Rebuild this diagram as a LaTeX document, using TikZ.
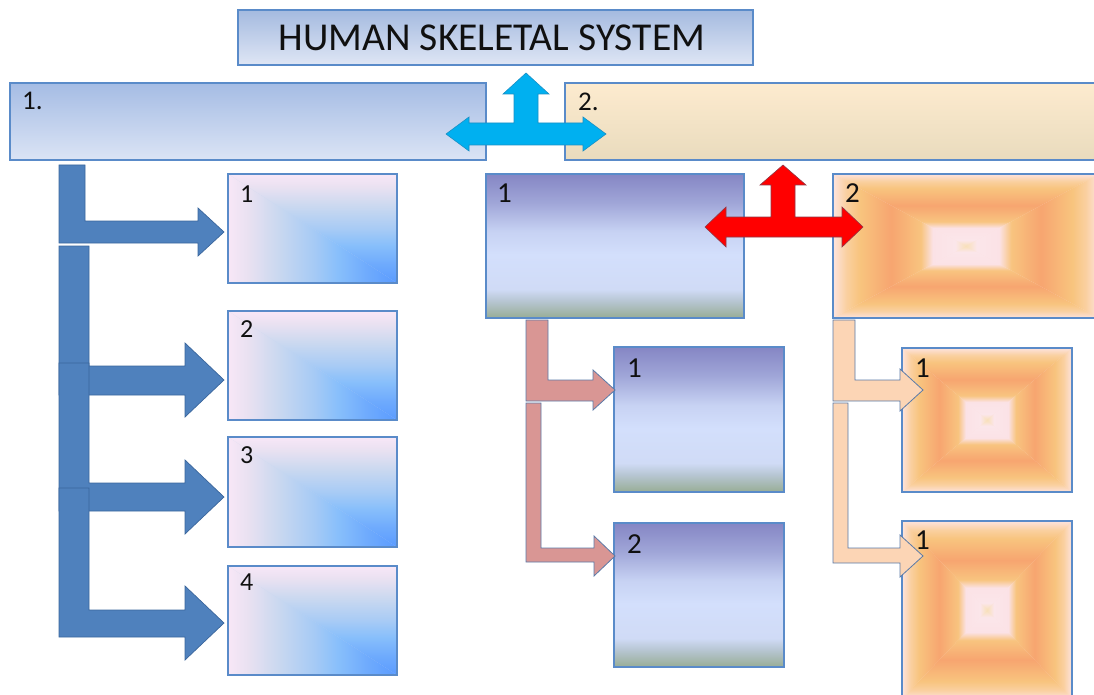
\documentclass[tikz,border=0pt]{standalone}
\usepackage{fontspec}
\setmainfont{Carlito}
\usetikzlibrary{fit}

\definecolor{bordc}{HTML}{5A8BC9}
\definecolor{txt}{HTML}{101010}
\definecolor{tA}{HTML}{A4BADF}
\definecolor{tB}{HTML}{DFE6F5}
\definecolor{oA}{HTML}{A5BCE4}
\definecolor{oB}{HTML}{DBE4F5}
\definecolor{wA}{HTML}{FDEBCF}
\definecolor{wB}{HTML}{E9DBBD}
% purple boxes
\definecolor{pt}{HTML}{8586C4}
\definecolor{pm}{HTML}{A0A6D8}
\definecolor{p3}{HTML}{C7D2F3}
\definecolor{pl}{HTML}{D3DFFC}
\definecolor{pl2}{HTML}{D0DBF6}
\definecolor{p5}{HTML}{B7C6D3}
\definecolor{pg}{HTML}{98AD95}
% corner-gradient boxes
\definecolor{d0}{HTML}{F8E7F7}
\definecolor{d1}{HTML}{E9E1F1}
\definecolor{d2}{HTML}{C9D8F0}
\definecolor{d3}{HTML}{A8CBF5}
\definecolor{d4}{HTML}{88BFFB}
\definecolor{d5}{HTML}{6FABFD}
\definecolor{d6}{HTML}{5A9BFF}
% pyramid boxes
\definecolor{q0}{HTML}{FDE3DE}
\definecolor{q1}{HTML}{FAD0A0}
\definecolor{q2}{HTML}{F8C47E}
\definecolor{q3}{HTML}{F7A570}
\definecolor{q4}{HTML}{F8C47F}
\definecolor{q5}{HTML}{FBE2E6}
\definecolor{q6}{HTML}{FBE6EA}
\definecolor{q7}{HTML}{F8E0B8}
% connectors
\definecolor{cyanA}{HTML}{00B0F0}
\definecolor{cyanB}{HTML}{1A8FC4}
\definecolor{redA}{HTML}{FF0000}
\definecolor{redB}{HTML}{8E3A48}
\definecolor{blA}{HTML}{4F81BD}
\definecolor{blB}{HTML}{3A669C}
\definecolor{pkA}{HTML}{D99694}
\definecolor{pcA}{HTML}{FCD5B5}
\definecolor{lnB}{HTML}{5A7AA8}

\pgfdeclareverticalshading{purp}{100bp}{color(0bp)=(pg); color(25bp)=(pg); color(31bp)=(p5); color(35bp)=(pl2); color(47bp)=(pl); color(55bp)=(p3); color(65bp)=(pm); color(75bp)=(pt); color(100bp)=(pt)}
% corner gradient: t = min(x/w, y/h)
\pgfdeclareverticalshading{cornV}{100bp}{color(0bp)=(d6); color(25bp)=(d6); color(34bp)=(d5); color(42.5bp)=(d4); color(50bp)=(d3); color(60bp)=(d2); color(69bp)=(d1); color(75bp)=(d0); color(100bp)=(d0)}
\pgfdeclarehorizontalshading{cornH}{100bp}{color(0bp)=(d0); color(25bp)=(d0); color(31bp)=(d1); color(40bp)=(d2); color(50bp)=(d3); color(57.5bp)=(d4); color(66bp)=(d5); color(75bp)=(d6); color(100bp)=(d6)}
\pgfdeclareverticalshading{pyrT}{100bp}{color(0bp)=(q7); color(25bp)=(q7); color(29bp)=(q6); color(37.5bp)=(q5); color(42bp)=(q4); color(53bp)=(q3); color(65bp)=(q2); color(70bp)=(q1); color(75bp)=(q0); color(100bp)=(q0)}
\pgfdeclareverticalshading{pyrB}{100bp}{color(0bp)=(q0); color(25bp)=(q0); color(30bp)=(q1); color(35bp)=(q2); color(47bp)=(q3); color(58bp)=(q4); color(62.5bp)=(q5); color(71bp)=(q6); color(75bp)=(q7); color(100bp)=(q7)}
\pgfdeclarehorizontalshading{pyrL}{100bp}{color(0bp)=(q0); color(25bp)=(q0); color(30bp)=(q1); color(35bp)=(q2); color(47bp)=(q3); color(58bp)=(q4); color(62.5bp)=(q5); color(71bp)=(q6); color(75bp)=(q7); color(100bp)=(q7)}
\pgfdeclarehorizontalshading{pyrR}{100bp}{color(0bp)=(q7); color(25bp)=(q7); color(29bp)=(q6); color(37.5bp)=(q5); color(42bp)=(q4); color(53bp)=(q3); color(65bp)=(q2); color(70bp)=(q1); color(75bp)=(q0); color(100bp)=(q0)}

\newcommand\mypyr{%
\begin{scope}\clip (path picture bounding box.north west) -- (path picture bounding box.north east) -- (path picture bounding box.center) -- cycle;
\shade[shading=pyrT] (path picture bounding box.north west) rectangle (path picture bounding box.east);\end{scope}
\begin{scope}\clip (path picture bounding box.south west) -- (path picture bounding box.south east) -- (path picture bounding box.center) -- cycle;
\shade[shading=pyrB] (path picture bounding box.west) rectangle (path picture bounding box.south east);\end{scope}
\begin{scope}\clip (path picture bounding box.north west) -- (path picture bounding box.south west) -- (path picture bounding box.center) -- cycle;
\shade[shading=pyrL] (path picture bounding box.north west) rectangle (path picture bounding box.south);\end{scope}
\begin{scope}\clip (path picture bounding box.north east) -- (path picture bounding box.south east) -- (path picture bounding box.center) -- cycle;
\shade[shading=pyrR] (path picture bounding box.north) rectangle (path picture bounding box.south east);\end{scope}
}
\newcommand\mycorner{%
\begin{scope}\clip (path picture bounding box.north west) -- (path picture bounding box.north east) -- (path picture bounding box.south east) -- cycle;
\shade[shading=cornV] (path picture bounding box.north west) rectangle (path picture bounding box.south east);\end{scope}
\begin{scope}\clip (path picture bounding box.north west) -- (path picture bounding box.south west) -- (path picture bounding box.south east) -- cycle;
\shade[shading=cornH] (path picture bounding box.north west) rectangle (path picture bounding box.south east);\end{scope}
}

\begin{document}
\begin{tikzpicture}[x=1pt,y=-1pt,
  box/.style={draw=bordc, line width=1.3pt, inner sep=0pt, outer sep=0pt},
  purpbox/.style={box, shade, shading=purp},
  diagbox/.style={box, fill=d2, path picture={\mycorner}},
  pyrbox/.style={box, fill=q0, path picture={\mypyr}},
  lbl/.style={anchor=base west, inner sep=0pt, text=txt, font=\fontsize{26}{28}\selectfont},
  biglbl/.style={lbl, font=\fontsize{29}{30}\selectfont},
  toplbl/.style={lbl, font=\fontsize{27}{28}\selectfont},
  cyanarrow/.style={fill=cyanA, draw=cyanB, line width=0.6pt, line join=miter},
  redarrow/.style={fill=redA, draw=redB, line width=0.6pt, line join=miter},
  bluearrow/.style={fill=blA, draw=blB, line width=0.7pt, line join=miter},
  pinkarrow/.style={fill=pkA, draw=lnB, line width=0.8pt, line join=miter},
  peacharrow/.style={fill=pcA, draw=lnB, line width=0.8pt, line join=miter}]
\useasboundingbox (0,0) rectangle (1094,695);
\clip (0,0) rectangle (1094,695);

% title and first level
\node[box, fit={(238,10) (753,65)}, top color=tA, bottom color=tB] (title) {};
\node[text=txt, font=\fontsize{39.5}{41}\selectfont, inner sep=0pt] (titletext) at (492,38) {HUMAN SKELETAL SYSTEM};
\node[box, fit={(10,83) (486,160)}, top color=oA, bottom color=oB] (top1) {};
\node[box, fit={(565,83) (1100,160)}, top color=wA, bottom color=wB] (top2) {};

% left column
\node[diagbox, fit={(228,174) (397,283)}] (L1) {};
\node[diagbox, fit={(228,311) (397,420)}] (L2) {};
\node[diagbox, fit={(228,437) (397,547)}] (L3) {};
\node[diagbox, fit={(228,566) (397,675)}] (L4) {};

% second level
\node[purpbox, fit={(486,174) (744,318)}] (B1) {};
\node[pyrbox, fit={(833,174) (1099,318)}] (B2) {};
\node[purpbox, fit={(614,347) (784,492)}] (C1) {};
\node[purpbox, fit={(614,523) (784,667)}] (C2) {};
\node[pyrbox, fit={(902,348) (1072,492)}] (D1) {};
\node[pyrbox, fit={(902,521) (1072,699)}] (D2) {};

% cross arrows
\draw[cyanarrow] (446,134) -- (469,117) -- (469,123) -- (514,123) -- (514,94) -- (503,94) -- (526,73) -- (549,94) -- (538,94) -- (538,123) -- (583,123) -- (583,117) -- (606,134) -- (583,151) -- (583,145) -- (469,145) -- (469,151) -- cycle;
\draw[redarrow] (705,227) -- (726,207) -- (726,217) -- (771,217) -- (771,185) -- (760,185) -- (783,165) -- (806,185) -- (795,185) -- (795,217) -- (842,217) -- (842,207) -- (863,227) -- (842,247) -- (842,237) -- (726,237) -- (726,247) -- cycle;

% left bent arrows
\draw[bluearrow] (59,165) -- (85,165) -- (85,221) -- (198,221) -- (198,208) -- (224,232) -- (198,256) -- (198,243) -- (59,243) -- cycle;
\draw[bluearrow] (59,246) -- (89,246) -- (89,366) -- (185,366) -- (185,343) -- (224,380) -- (185,417) -- (185,395) -- (59,395) -- cycle;
\draw[bluearrow] (59,363) -- (89,363) -- (89,483) -- (185,483) -- (185,460) -- (224,497) -- (185,534) -- (185,511) -- (59,511) -- cycle;
\draw[bluearrow] (59,488) -- (89,488) -- (89,610) -- (185,610) -- (185,586) -- (224,623) -- (185,660) -- (185,637) -- (59,637) -- cycle;

% middle bent arrows
\draw[pinkarrow] (526,320) -- (548,320) -- (548,380) -- (593,380) -- (593,370) -- (615,390) -- (593,410) -- (593,401) -- (526,401) -- cycle;
\draw[pinkarrow] (526,403) -- (541,403) -- (541,548) -- (594,548) -- (594,536) -- (615,556) -- (594,576) -- (594,562) -- (526,562) -- cycle;

% right bent arrows
\draw[peacharrow] (833,320) -- (855,320) -- (855,380) -- (900,380) -- (900,369) -- (923,390) -- (900,411) -- (900,401) -- (833,401) -- cycle;
\draw[peacharrow] (833,403) -- (848,403) -- (848,548) -- (900,548) -- (900,535) -- (923,556) -- (900,577) -- (900,563) -- (833,563) -- cycle;

% labels
\node[toplbl] (t1lbl) at (22,110) {1.};
\node[toplbl] (t2lbl) at (578,111) {2.};
\node[lbl] (l1lbl) at (240,203) {1};
\node[lbl] (l2lbl) at (240,337) {2};
\node[lbl] (l3lbl) at (240,463) {3};
\node[lbl] (l4lbl) at (240,590) {4};
\node[biglbl] (b1lbl) at (497,202) {1};
\node[biglbl] (b2lbl) at (845,203) {2};
\node[biglbl] (c1lbl) at (627,377) {1};
\node[biglbl] (c2lbl) at (627,553) {2};
\node[biglbl] (d1lbl) at (915,377) {1};
\node[biglbl] (d2lbl) at (915,549) {1};
\end{tikzpicture}
\end{document}
